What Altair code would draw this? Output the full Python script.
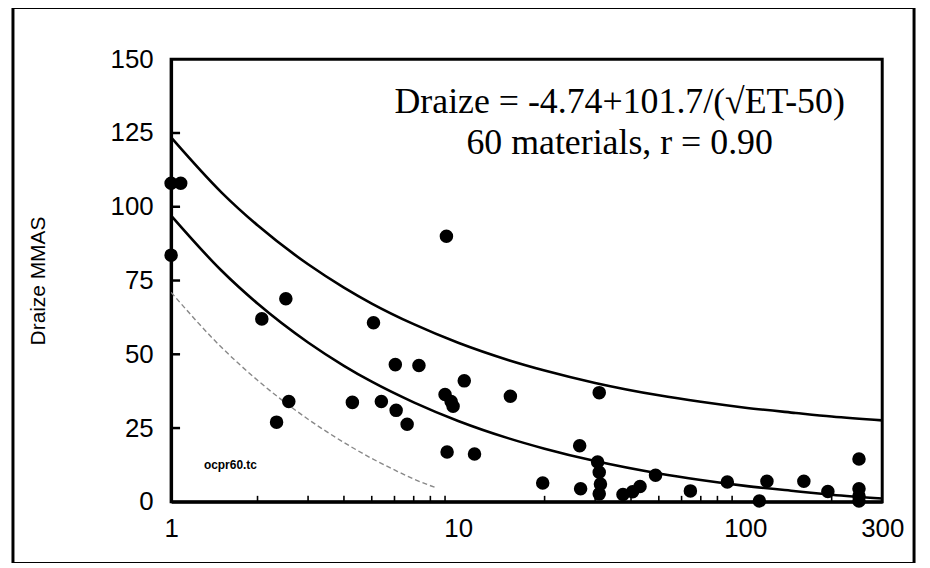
import altair as alt
import pandas as pd

# Scatter data (ET50 vs Draize MMAS)
pt_x = [1.0, 1.08, 1.0, 2.07, 2.51, 2.57, 2.33, 4.28, 5.07, 5.4, 6.04, 6.08, 6.64, 7.3,
        9.1, 9.0, 9.45, 9.6, 9.15, 10.5, 11.4, 15.2, 19.7, 26.5, 26.7, 31.0, 30.6, 31.0,
        31.3, 31.0, 37.5, 40.5, 43.0, 48.7, 64.4, 86.6, 112, 119, 160, 194, 249, 249, 249, 249]
pt_y = [108, 108, 83.6, 62, 68.8, 34, 27, 33.7, 60.7, 34, 46.5, 31, 26.3, 46.2,
        90, 36.4, 34, 32.4, 16.9, 41, 16.2, 35.8, 6.4, 19, 4.4, 37, 13.5, 10,
        6, 2.7, 2.5, 3.4, 5.2, 9, 3.7, 6.7, 0.3, 7, 7, 3.5, 14.5, 4.4, 2, 0.3]

# Curves
cx = [1, 1.5, 2, 3, 4, 5, 7, 10, 15, 20, 30, 50, 70, 100, 150, 200, 300]
mid = [97.0, 78.3, 67.2, 54.0, 46.1, 40.7, 33.7, 27.4, 21.5, 18.0, 13.8, 9.6, 7.4, 5.4, 3.6, 2.4, 1.1]
upper = [123.5, 104.8, 93.7, 80.5, 72.6, 67.2, 60.2, 53.9, 48.0, 44.5, 40.3, 36.1, 33.9, 31.9, 30.1, 28.9, 27.6]
lx = [1, 1.5, 2, 3, 4, 5, 6, 7, 8.3]
lower = [71, 52.3, 41.2, 28.0, 20.1, 14.7, 10.8, 7.7, 4.9]

x_labels = [1, 10, 100, 300]
x_minor = [2, 3, 4, 5, 6, 7, 8, 9, 20, 30, 40, 50, 60, 70, 80, 90, 200]
y_ticks = [0, 25, 50, 75, 100, 125, 150]
y_inner = [25, 50, 75, 100, 125]

W, H = 715, 445

pts = pd.DataFrame({"x": pt_x, "y": pt_y})
curves = pd.concat([
    pd.DataFrame({"x": cx, "y": upper, "c": "upper"}),
    pd.DataFrame({"x": cx, "y": mid, "c": "mid"}),
])
low = pd.DataFrame({"x": lx, "y": lower})

xs = alt.Scale(type="log", domain=[1, 300], nice=False)
ys = alt.Scale(domain=[0, 150], nice=False)

xaxis = alt.Axis(values=x_labels, tickSize=0, labelFontSize=26, labelPadding=14, labelFont="Liberation Sans",
                 labelColor="black", domainColor="black", domainWidth=3, grid=False, title=None,
                 labelFlush=False)
yaxis = alt.Axis(values=y_ticks, tickSize=0, labelFontSize=26, labelPadding=18, labelFont="Liberation Sans",
                 labelColor="black", domainColor="black", domainWidth=3, grid=False,
                 title="Draize MMAS", titleFontSize=21, titleFont="Liberation Sans", titleFontWeight="normal",
                 titleColor="black", titlePadding=62)

base_pts = alt.Chart(pts).mark_circle(size=185, color="black", opacity=1).encode(
    x=alt.X("x:Q", scale=xs, axis=xaxis),
    y=alt.Y("y:Q", scale=ys, axis=yaxis),
)

lines = alt.Chart(curves).mark_line(color="black", strokeWidth=2.6, interpolate="monotone", clip=True).encode(
    x=alt.X("x:Q", scale=xs, axis=None), y=alt.Y("y:Q", scale=ys, axis=None), detail="c:N"
)

low_line = alt.Chart(low).mark_line(color="#888888", strokeWidth=1.4, strokeDash=[5, 3],
                                    interpolate="monotone", clip=True).encode(
    x=alt.X("x:Q", scale=xs, axis=None), y=alt.Y("y:Q", scale=ys, axis=None)
)

# inward tick marks drawn as short rules
xt = alt.Chart(pd.DataFrame({"tx": x_minor})).mark_rule(color="black", strokeWidth=1.6).encode(
    x=alt.X("tx:Q", scale=xs, axis=None), y=alt.value(H - 6), y2=alt.value(H)
)
yt = alt.Chart(pd.DataFrame({"ty": y_inner})).mark_rule(color="black", strokeWidth=2.5).encode(
    y=alt.Y("ty:Q", scale=ys, axis=None), x=alt.value(0), x2=alt.value(9)
)

ann = alt.Chart(pd.DataFrame({"t": ["Draize = -4.74+101.7/(\u221aET-50)", "60 materials,  r = 0.90"],
                              "py": [43, 84]})).mark_text(
    font="Liberation Serif", fontSize=36, color="black", align="center", baseline="middle"
).encode(text="t:N", x=alt.value(451), y=alt.Y("py:Q", scale=None, axis=None))

tag = alt.Chart(pd.DataFrame({"t": ["ocpr60.tc"]})).mark_text(
    font="Liberation Sans", fontSize=12, fontWeight="bold", color="black", align="left", baseline="middle"
).encode(text="t:N", x=alt.value(33), y=alt.value(408))

frame = alt.Chart(pd.DataFrame({"a": [0]})).mark_rect(fill=None, stroke="black", strokeWidth=3, clip=False).encode(
    x=alt.value(-159), x2=alt.value(747), y=alt.value(-52), y2=alt.value(507)
)

chart = alt.layer(frame, low_line, lines, base_pts, xt, yt, ann, tag).resolve_axis(
    x="independent", y="independent"
).properties(
    width=W, height=H,
    autosize=alt.AutoSizeParams(type="none"),
    padding={"left": 164, "top": 50, "right": 40, "bottom": 60},
    background="white",
).configure_view(stroke="black", strokeWidth=3)

chart.save("out.html", embed_options={"renderer": "svg", "actions": False})
